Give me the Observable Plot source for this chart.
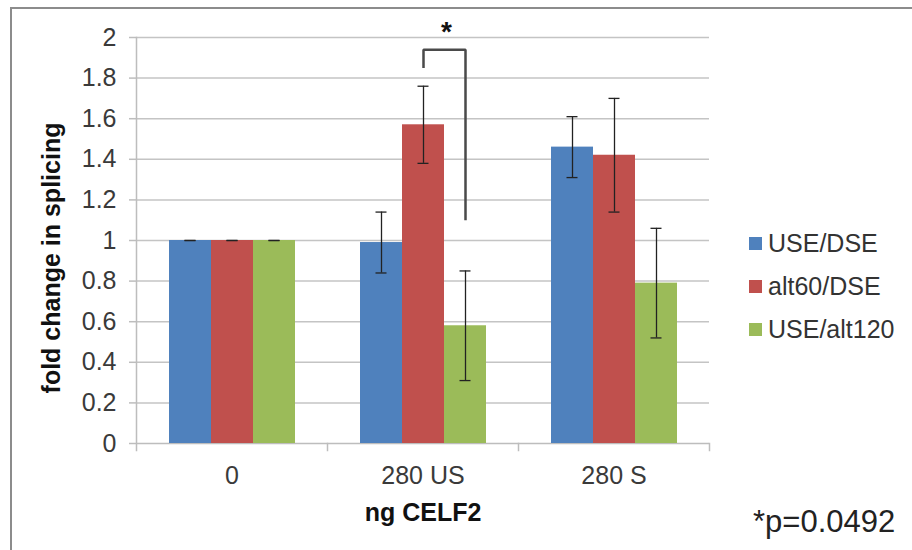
<!DOCTYPE html>
<html>
<head>
<meta charset="utf-8">
<script src="https://cdn.jsdelivr.net/npm/d3@7"></script>
<script src="https://cdn.jsdelivr.net/npm/@observablehq/plot@0.6"></script>
<style>
  html, body { margin: 0; padding: 0; background: #fff; overflow: hidden; }
  body { width: 912px; height: 550px; position: relative; font-family: "Liberation Sans", Arial, sans-serif; }
  #chart { position: absolute; left: 0; top: 0; }
  .border { position: absolute; left: 10px; top: 7px; width: 1200px; height: 800px;
            border-top: 2px solid #8c8c8c; border-left: 2px solid #8c8c8c; }
  .ytitle { position: absolute; left: 51px; top: 258px; transform: translate(-50%, -50%) rotate(-90deg);
            font-weight: bold; font-size: 25px; color: #111; white-space: nowrap; }
  .xtitle { position: absolute; left: 423px; top: 512px; transform: translate(-50%, -50%);
            font-weight: bold; font-size: 25px; color: #111; white-space: nowrap; }
  .legend { position: absolute; left: 749px; top: 222px; }
  .legend .row { display: flex; align-items: center; height: 43px; font-size: 25px; color: #333; }
  .legend .sw { width: 13px; height: 13px; margin-right: 6px; }
  .pval { position: absolute; left: 753px; top: 522px; transform: translateY(-50%); font-size: 31px; color: #222; }
</style>
</head>
<body>
<div class="border"></div>
<div id="chart"></div>
<div class="ytitle">fold change in splicing</div>
<div class="xtitle">ng CELF2</div>
<div class="legend" id="legend"></div>
<div class="pval">*p=0.0492</div>
<script>
// CELF2 dose categories and splice-site ratio series
const categories = ["0", "280 US", "280 S"];
const series = ["USE/DSE", "alt60/DSE", "USE/alt120"];
const colors = ["#4f81bd", "#c0504d", "#9bbb59"];

// mean fold change per category, and error bar half-widths
const useDse = [1.00, 0.99, 1.46];
const useDseErr = [0, 0.15, 0.15];
const alt60Dse = [1.00, 1.57, 1.42];
const alt60DseErr = [0, 0.19, 0.28];
const useAlt120 = [1.00, 0.58, 0.79];
const useAlt120Err = [0, 0.27, 0.27];

const yTicks = [0, 0.2, 0.4, 0.6, 0.8, 1, 1.2, 1.4, 1.6, 1.8, 2];

// significance bracket between alt60/DSE and USE/alt120 at 280 US
const bracketCategory = "280 US";
const bracketSeries = ["alt60/DSE", "alt60/DSE", "USE/alt120", "USE/alt120"];
const bracketLevels = [1.85, 1.94, 1.94, 1.10];
const starLabel = "*";

const means = [useDse, alt60Dse, useAlt120];
const errs = [useDseErr, alt60DseErr, useAlt120Err];
const rows = [];
categories.forEach((cat, i) => {
  series.forEach((s, j) => {
    const v = means[j][i], e = errs[j][i];
    rows.push({cat, series: s, value: v, lo: v - e, hi: v + e});
  });
});
const bracket = bracketSeries.map((s, k) => ({cat: bracketCategory, series: s, y: bracketLevels[k]}));

const axisGray = "#bdbdbd";
const chart = Plot.plot({
  width: 912,
  height: 550,
  marginLeft: 135,
  marginRight: 202,
  marginTop: 37,
  marginBottom: 107,
  style: {fontFamily: "'Liberation Sans', Arial, sans-serif", background: "transparent"},
  fx: {domain: categories, padding: 0, label: null},
  x: {domain: series, paddingInner: 0, paddingOuter: 0.75, axis: null},
  y: {domain: [0, 2], label: null},
  color: {domain: series, range: colors},
  marks: [
    Plot.gridY(yTicks.slice(1), {stroke: "#c4c4c4", strokeOpacity: 1, strokeWidth: 1.5}),
    Plot.axisY(yTicks, {tickSize: 7, tickPadding: 13, fontSize: 25, stroke: axisGray, fill: "#3a3a3a",
                        strokeWidth: 1.5, tickFormat: (d) => String(d), label: null}),
    Plot.axisFx({anchor: "bottom", tickSize: 0, tickPadding: 23, fontSize: 25, fill: "#3a3a3a", label: null}),
    Plot.frame({anchor: "left", facetAnchor: "left", insetBottom: -7, stroke: axisGray, strokeWidth: 1.5}),
    Plot.frame({anchor: "right", insetTop: 406, insetBottom: -7, stroke: axisGray, strokeWidth: 1.5}),
    Plot.ruleY([0], {stroke: axisGray, strokeWidth: 1.5}),
    Plot.barY(rows, {fx: "cat", x: "series", y: "value", fill: "series"}),
    Plot.ruleX(rows, {fx: "cat", x: "series", y1: "lo", y2: "hi", stroke: "#222", strokeWidth: 1.3}),
    Plot.tickY(rows, {fx: "cat", x: "series", y: "lo", stroke: "#222", strokeWidth: 1.3, insetLeft: 15.5, insetRight: 15.5}),
    Plot.tickY(rows, {fx: "cat", x: "series", y: "hi", stroke: "#222", strokeWidth: 1.3, insetLeft: 15.5, insetRight: 15.5}),
    Plot.line(bracket, {fx: "cat", x: "series", y: "y", stroke: "#4a4a4a", strokeWidth: 2.5, strokeLinejoin: "miter", strokeLinecap: "butt"}),
    Plot.text([{cat: bracketCategory, series: "USE/alt120", y: 2}], {fx: "cat", x: "series", y: "y", text: () => starLabel,
              dx: -19, dy: -5, fontSize: 28, fontWeight: "bold", fill: "#111"})
  ]
});
document.getElementById("chart").appendChild(chart);

// legend rows built from the same series/colour arrays
const legend = document.getElementById("legend");
series.forEach((s, j) => {
  const row = document.createElement("div");
  row.className = "row";
  const sw = document.createElement("div");
  sw.className = "sw";
  sw.style.background = colors[j];
  const label = document.createElement("span");
  label.textContent = s;
  row.appendChild(sw);
  row.appendChild(label);
  legend.appendChild(row);
});
</script>
</body>
</html>
